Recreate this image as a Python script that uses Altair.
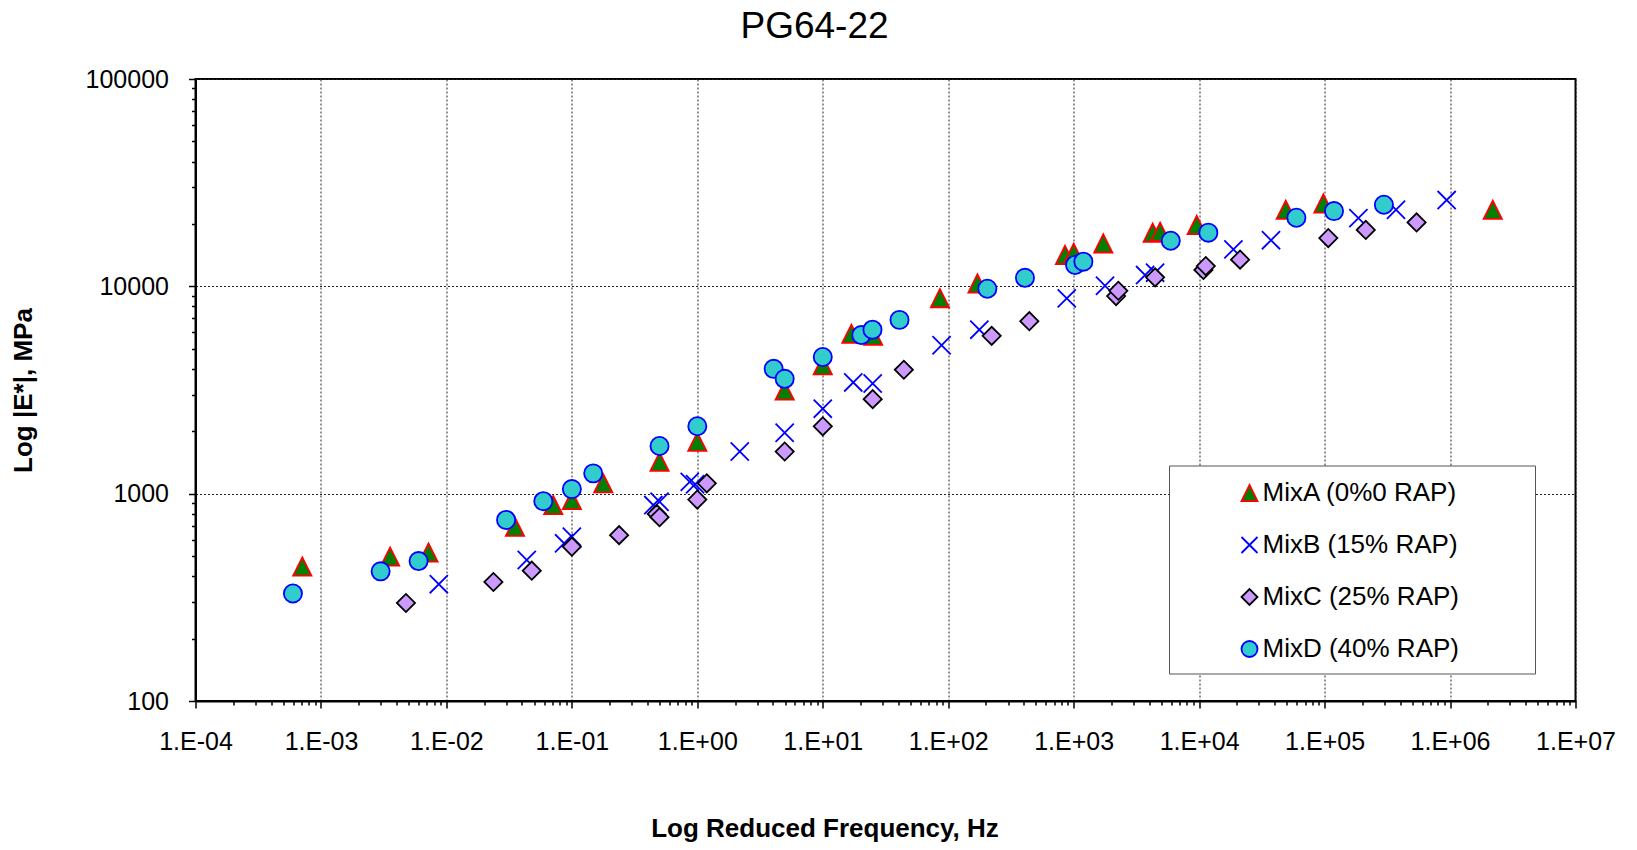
import altair as alt
import pandas as pd

chart_title = "PG64-22"
series_names = ["MixA (0%0 RAP)", "MixB (15% RAP)", "MixC (25% RAP)", "MixD (40% RAP)"]

mixA_freq = [7.1e-4, 3.56e-3, 7.2e-3, 0.0352, 0.0711, 0.1, 0.178, 0.5, 1.0, 4.97, 10, 16.9, 25.2,
             85.9, 171, 853, 1000, 1722, 4264, 4885, 9570, 49000, 97800, 2190000]
mixA_E = [445, 497, 520, 692, 881, 931, 1122, 1426, 1778, 3140, 4160, 5900, 5770,
          8770, 10330, 14170, 14520, 16110, 18150, 18320, 19770, 23390, 25100, 23390]

mixB_freq = [8.7e-3, 0.0437, 0.0867, 0.1, 0.446, 0.5, 0.87, 0.96, 2.18, 4.97, 10, 17.5, 25,
             88.5, 177, 881, 1778, 3709, 4454, 18750, 37400, 186000, 371000, 940000]
mixB_E = [366, 479, 576, 620, 881, 914, 1140, 1110, 1597, 1968, 2570, 3440, 3400,
          5200, 6180, 8750, 10060, 11330, 11640, 15080, 16700, 21330, 23400, 26060]

mixC_freq = [4.76e-3, 0.0237, 0.0479, 0.1, 0.238, 0.475, 0.5, 1.0, 1.19, 4.97, 10, 25, 44.3,
             222, 443, 2178, 2270, 4454, 10820, 11300, 21200, 107000, 213000, 541000]
mixC_E = [297, 375, 425, 555, 631, 798, 770, 937, 1122, 1597, 2113, 2857, 3960,
          5770, 6790, 8980, 9520, 11050, 11990, 12530, 13450, 17100, 18700, 20330]

mixD_freq = [5.98e-4, 2.99e-3, 6.0e-3, 0.0299, 0.0592, 0.1, 0.148, 0.5, 1.0, 4.06, 4.97, 10, 20.3,
             24.9, 40.9, 205, 409, 1026, 1195, 5940, 11840, 59600, 118900, 297000]
mixD_E = [330, 422, 473, 747, 920, 1052, 1253, 1698, 2113, 4000, 3580, 4560, 5820,
          6180, 6890, 9730, 10990, 12680, 13150, 16600, 18150, 21430, 23060, 24760]

x_ticks = [m * 10.0 ** k for k in range(-4, 7) for m in range(1, 10)] + [1e7]
y_ticks = [m * 10.0 ** k for k in range(2, 5) for m in range(1, 10)] + [1e5]

rows = []
for name, xs, ys in zip(series_names,
                        [mixA_freq, mixB_freq, mixC_freq, mixD_freq],
                        [mixA_E, mixB_E, mixC_E, mixD_E]):
    for xv, yv in zip(xs, ys):
        rows.append({"Mix": name, "freq": xv, "E": yv})
df = pd.DataFrame(rows)

FONT = "Liberation Sans"
LG = "(log(datum.value)/LN10)"
MAJOR = f"abs({LG} - round({LG})) < 0.001"
EXP = f"round({LG})"

x_label = (f"({MAJOR}) ? ('1.E' + ({EXP} < 0 ? '-' : '+') + (abs({EXP}) < 10 ? '0' : '') + abs({EXP})) : ''")
y_label = f"({MAJOR}) ? format(datum.value, 'd') : ''"

tick_size = {"condition": {"test": MAJOR, "value": 7}, "value": 4}
grid_op = {"condition": {"test": MAJOR, "value": 1}, "value": 0}

tri_path = "M0,-1L1,1L-1,1Z"
x_path = "M-1,-1L1,1M-1,1L1,-1"

legend = alt.Legend(title=None, orient="none", legendX=1041, legendY=401,
                    labelFont=FONT, labelFontSize=26, labelColor="black", labelLimit=500,
                    symbolSize=256, symbolStrokeWidth=1.8, rowPadding=26,
                    labelOffset=0, padding=0, symbolOpacity=1)

x_axis = alt.Axis(values=x_ticks, labelExpr=x_label, labelFlush=False, labelOverlap=False,
                  labelFont=FONT, labelFontSize=25, labelColor="black", labelPadding=21,
                  tickSize=tick_size, tickColor="black", tickWidth=1.5,
                  grid=True, gridColor="#222222", gridDash=[2, 2], gridWidth=1, gridOpacity=grid_op,
                  domainColor="black", domainWidth=2,
                  title="Log Reduced Frequency, Hz", titleFont=FONT, titleFontSize=26,
                  titleFontWeight="bold", titleColor="black", titleX=629, titleY=127,
                  titleBaseline="middle", titleAlign="center")

y_axis = alt.Axis(values=y_ticks, labelExpr=y_label, labelFlush=False, labelOverlap=False,
                  labelFont=FONT, labelFontSize=25, labelColor="black", labelPadding=20,
                  tickSize=tick_size, tickColor="black", tickWidth=1.5,
                  grid=True, gridColor="#222222", gridDash=[2, 2], gridWidth=1, gridOpacity=grid_op,
                  domainColor="black", domainWidth=2,
                  title="Log |E*|, MPa", titleFont=FONT, titleFontSize=26,
                  titleFontWeight="bold", titleColor="black", titleX=-172, titleY=311,
                  titleAngle=270, titleBaseline="middle", titleAlign="center")

points = alt.Chart(df).mark_point(size=330, opacity=1, strokeWidth=1.8).encode(
    x=alt.X("freq:Q", scale=alt.Scale(type="log", domain=[1e-4, 1e7], nice=False), axis=x_axis),
    y=alt.Y("E:Q", scale=alt.Scale(type="log", domain=[100, 100000], nice=False), axis=y_axis),
    shape=alt.Shape("Mix:N", scale=alt.Scale(domain=series_names,
                                             range=[tri_path, x_path, "diamond", "circle"]),
                    legend=legend),
    fill=alt.Fill("Mix:N", scale=alt.Scale(domain=series_names,
                                           range=["#008000", "#0000FF", "#CC99FF", "#33CCCC"]),
                  legend=legend),
    stroke=alt.Stroke("Mix:N", scale=alt.Scale(domain=series_names,
                                               range=["#FF0000", "#0000FF", "#000000", "#0000FF"]),
                      legend=legend),
)

legend_box = alt.Chart(alt.Data(values=[{"k": 1}])).mark_rect(
    fill="white", stroke="#555555", strokeWidth=1
).encode(x=alt.value(974), x2=alt.value(1340), y=alt.value(387), y2=alt.value(595))

title_mark = alt.Chart(alt.Data(values=[{"t": chart_title}])).mark_text(
    font=FONT, fontSize=37, color="black", align="center", baseline="alphabetic"
).encode(text="t:N", x=alt.value(619), y=alt.value(-41))

chart = alt.layer(legend_box, points, title_mark).properties(
    width=1380, height=622,
    autosize=alt.AutoSizeParams(type="none"),
    padding={"left": 187.5, "top": 71, "right": 50, "bottom": 141},
    background="white",
).configure_view(stroke="black", strokeWidth=2)

chart.save("out.html", embed_options={"renderer": "svg", "actions": False})
